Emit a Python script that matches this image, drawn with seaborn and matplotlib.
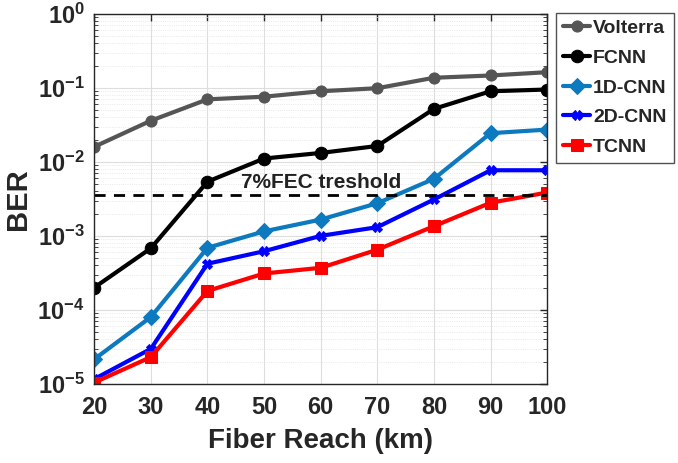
import matplotlib
matplotlib.use("Agg")
import matplotlib.pyplot as plt
import seaborn as sns
import pandas as pd
from matplotlib.ticker import LogLocator, NullFormatter

reach = [20, 30, 40, 50, 60, 70, 80, 90, 100]
volterra = [0.016, 0.036, 0.070, 0.076, 0.090, 0.099, 0.137, 0.147, 0.163]
fcnn = [2.0e-4, 6.8e-4, 5.4e-3, 0.0111, 0.0132, 0.0164, 0.052, 0.090, 0.095]
cnn1d = [2.15e-5, 8.0e-5, 6.9e-4, 1.15e-3, 1.66e-3, 2.76e-3, 5.9e-3, 0.0244, 0.0273]
cnn2d = [1.16e-5, 2.97e-5, 4.2e-4, 6.2e-4, 1.0e-3, 1.31e-3, 3.1e-3, 7.7e-3, 7.7e-3]
tcnn = [1.04e-5, 2.3e-5, 1.8e-4, 3.1e-4, 3.7e-4, 6.5e-4, 1.35e-3, 2.8e-3, 3.85e-3]
fec_threshold = 3.6e-3
series_names = ["Volterra", "FCNN", "1D-CNN", "2D-CNN", "TCNN"]

sns.set_style("white")
plt.rcParams['font.family'] = ['Liberation Sans', 'DejaVu Sans']
plt.rcParams['font.weight'] = 'bold'
plt.rcParams['mathtext.fontset'] = 'custom'
plt.rcParams['mathtext.rm'] = 'Liberation Sans:bold'
plt.rcParams['mathtext.it'] = 'Liberation Sans:bold'
plt.rcParams['mathtext.bf'] = 'Liberation Sans:bold'

df = pd.concat([
    pd.DataFrame({"reach": reach, "BER": v, "model": n})
    for n, v in zip(series_names, [volterra, fcnn, cnn1d, cnn2d, tcnn])
])

colors = {"Volterra": "#555555", "FCNN": "#000000", "1D-CNN": "#0d79bf",
          "2D-CNN": "#0000ff", "TCNN": "#ff0000"}
markers = {"Volterra": "o", "FCNN": "o", "1D-CNN": "D", "2D-CNN": "X", "TCNN": "s"}
msizes = {"Volterra": 8, "FCNN": 9, "1D-CNN": 8, "2D-CNN": 7, "TCNN": 8}

fig = plt.figure(figsize=(6.78, 4.63), dpi=100)
ax = fig.add_axes([0.139, 0.171, 0.668, 0.799])

for name in series_names:
    sub = df[df["model"] == name]
    sns.lineplot(data=sub, x="reach", y="BER", ax=ax, color=colors[name],
                 marker=markers[name], markersize=msizes[name], linewidth=3,
                 markeredgecolor=colors[name], label=name)

ax.axhline(fec_threshold, color="black", linestyle=(0, (4, 3)), linewidth=2)
ax.text(60, 4.5e-3, "7%FEC treshold", ha="center", va="baseline", fontsize=15,
        fontweight="bold", color="#222222")

ax.set_yscale("log")
ax.set_ylim(1e-5, 1)
ax.set_xlim(20, 100)
ax.set_xticks(reach)
ax.yaxis.set_major_locator(LogLocator(base=10, numticks=10))
ax.yaxis.set_minor_locator(LogLocator(base=10, subs=range(2, 10), numticks=20))
ax.yaxis.set_minor_formatter(NullFormatter())

ax.grid(True, which="major", color="#dddddd", linewidth=0.8)
ax.grid(True, which="minor", axis="y", color="#e2e2e2", linewidth=0.6, linestyle=":")
ax.tick_params(axis="both", which="major", labelsize=17, direction="in", length=5,
               colors="#262626", width=1, top=True, right=True)
ax.tick_params(axis="x", which="major", pad=9)
ax.tick_params(axis="y", which="major", pad=7)
ax.tick_params(axis="y", which="minor", direction="in", length=3, right=True, left=True)
for lab in ax.get_xticklabels() + ax.get_yticklabels():
    lab.set_fontweight("bold")
for s in ax.spines.values():
    s.set_color("#262626")
    s.set_linewidth(1)

ax.set_xlabel("Fiber Reach (km)", fontsize=20, fontweight="bold", color="#262626",
              labelpad=6)
ax.set_ylabel("BER", fontsize=21, fontweight="bold", color="#262626", labelpad=4)

leg = ax.legend(loc="upper left", bbox_to_anchor=(1.02, 1.003), fontsize=14,
                frameon=True, fancybox=False, edgecolor="#262626",
                handlelength=1.4, borderpad=0.35, labelspacing=0.62,
                handletextpad=0.15, borderaxespad=0)
for t in leg.get_texts():
    t.set_fontweight("bold")
leg.get_frame().set_linewidth(1)

fig.savefig("out.png", dpi=100)
